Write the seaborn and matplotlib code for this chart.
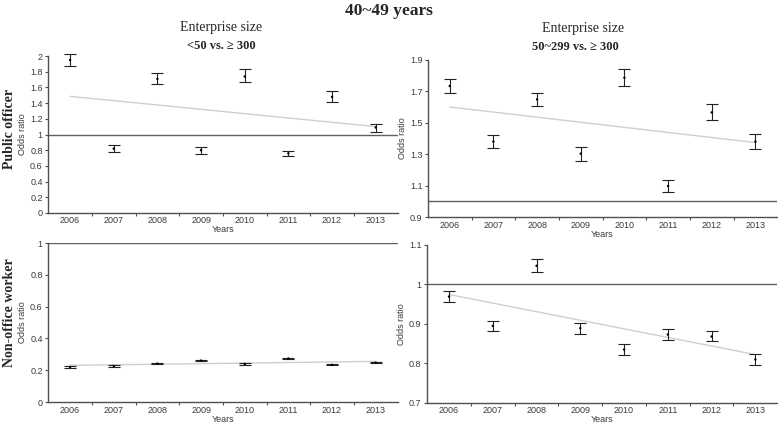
import numpy as np
import pandas as pd
import seaborn as sns
import matplotlib.pyplot as plt
from matplotlib.ticker import FixedLocator

years = [2006, 2007, 2008, 2009, 2010, 2011, 2012, 2013]

# Public officer, <50 vs >=300
po_small_or = [1.95, 0.82, 1.71, 0.80, 1.74, 0.76, 1.48, 1.09]
po_small_lo = [1.87, 0.775, 1.64, 0.755, 1.67, 0.72, 1.415, 1.03]
po_small_hi = [2.03, 0.87, 1.79, 0.84, 1.83, 0.79, 1.56, 1.14]

# Public officer, 50~299 vs >=300
po_mid_or = [1.734, 1.381, 1.649, 1.304, 1.787, 1.098, 1.566, 1.381]
po_mid_lo = [1.69, 1.338, 1.606, 1.26, 1.732, 1.06, 1.515, 1.334]
po_mid_hi = [1.777, 1.423, 1.69, 1.347, 1.845, 1.134, 1.617, 1.432]

# Non-office worker, <50 vs >=300
nw_small_or = [0.221, 0.227, 0.242, 0.261, 0.240, 0.274, 0.234, 0.248]
nw_small_lo = [0.217, 0.223, 0.238, 0.256, 0.236, 0.269, 0.230, 0.244]
nw_small_hi = [0.225, 0.231, 0.246, 0.266, 0.244, 0.279, 0.238, 0.252]

# Non-office worker, 50~299 vs >=300
nw_mid_or = [0.969, 0.895, 1.047, 0.889, 0.835, 0.873, 0.868, 0.810]
nw_mid_lo = [0.955, 0.881, 1.030, 0.875, 0.821, 0.859, 0.856, 0.795]
nw_mid_hi = [0.983, 0.907, 1.063, 0.903, 0.849, 0.888, 0.883, 0.823]

yticks_po_small = [0, 0.2, 0.4, 0.6, 0.8, 1, 1.2, 1.4, 1.6, 1.8, 2]
yticks_po_mid = [0.9, 1.1, 1.3, 1.5, 1.7, 1.9]
yticks_nw_small = [0, 0.2, 0.4, 0.6, 0.8, 1]
yticks_nw_mid = [0.7, 0.8, 0.9, 1, 1.1]

sns.set_style("ticks")
plt.rcParams['font.family'] = ['Liberation Sans', 'DejaVu Sans']
serif = ['Liberation Serif', 'DejaVu Serif']

fig = plt.figure(figsize=(7.78, 4.25), dpi=100)

panels = [
    ([0.062, 0.499, 0.449, 0.369], po_small_or, po_small_lo, po_small_hi, yticks_po_small),
    ([0.550, 0.489, 0.449, 0.370], po_mid_or, po_mid_lo, po_mid_hi, yticks_po_mid),
    ([0.062, 0.054, 0.449, 0.374], nw_small_or, nw_small_lo, nw_small_hi, yticks_nw_small),
    ([0.549, 0.052, 0.450, 0.372], nw_mid_or, nw_mid_lo, nw_mid_hi, yticks_nw_mid),
]

spine_col = "#505050"
text_col = "#3a3a3a"
for rect, orr, lo, hi, yt in panels:
    ax = fig.add_axes(rect)
    df = pd.DataFrame({"year": years, "or": orr, "lo": lo, "hi": hi})
    ax.axhline(1, color="#606060", lw=1.0, zorder=1)
    sns.regplot(data=df, x="year", y="or", ax=ax, ci=None, scatter=False,
                line_kws=dict(color="#cfcfcf", lw=1.0, zorder=2))
    yerr = [df["or"] - df["lo"], df["hi"] - df["or"]]
    ax.errorbar(df["year"], df["or"], yerr=yerr, fmt="none", ecolor="#222222",
                elinewidth=0.8, capsize=4, capthick=0.8, zorder=3, clip_on=False)
    sns.scatterplot(data=df, x="year", y="or", ax=ax, color="black", s=3,
                    edgecolor="none", zorder=4)
    ax.set_xlim(2005.5, 2013.5)
    ax.set_ylim(yt[0], yt[-1])
    ax.set_yticks(yt)
    ax.set_yticklabels([f"{v:g}" for v in yt])
    ax.set_xticks(years)
    ax.set_xticklabels([str(y) for y in years])
    ax.xaxis.set_minor_locator(FixedLocator([y + 0.5 for y in years[:-1]]))
    ax.tick_params(axis="x", which="major", length=0, labelsize=6.5, pad=2.5, colors=text_col)
    ax.tick_params(axis="x", which="minor", length=2.5, width=0.8, color=spine_col)
    ax.tick_params(axis="y", length=2.5, width=0.8, labelsize=6.5, pad=1.5,
                   colors=text_col, color=spine_col)
    ax.set_xlabel("Years", fontsize=6.5, color=text_col, labelpad=0)
    ax.set_ylabel("Odds ratio", fontsize=6.5, color=text_col, labelpad=2)
    sns.despine(ax=ax)
    ax.spines["left"].set_color(spine_col)
    ax.spines["bottom"].set_color(spine_col)
    ax.spines["left"].set_linewidth(1.0)
    ax.spines["bottom"].set_linewidth(1.0)
    ax.set_facecolor("white")

fig.text(0.5, 0.974, "40~49 years", ha="center", va="center", fontsize=12.5,
         fontweight="bold", family=serif)
fig.text(0.284, 0.936, "Enterprise size", ha="center", va="center", fontsize=10, family=serif)
fig.text(0.284, 0.892, "<50 vs. \u2265 300", ha="center", va="center", fontsize=9,
         fontweight="bold", family=serif)
fig.text(0.750, 0.934, "Enterprise size", ha="center", va="center", fontsize=10, family=serif)
fig.text(0.740, 0.890, "50~299 vs. \u2265 300", ha="center", va="center", fontsize=9,
         fontweight="bold", family=serif)
fig.text(0.012, 0.696, "Public officer", ha="center", va="center", rotation=90,
         fontsize=10, fontweight="bold", family=serif)
fig.text(0.012, 0.264, "Non-office worker", ha="center", va="center", rotation=90,
         fontsize=10, fontweight="bold", family=serif)

fig.savefig("out.png", dpi=100, facecolor="white")
